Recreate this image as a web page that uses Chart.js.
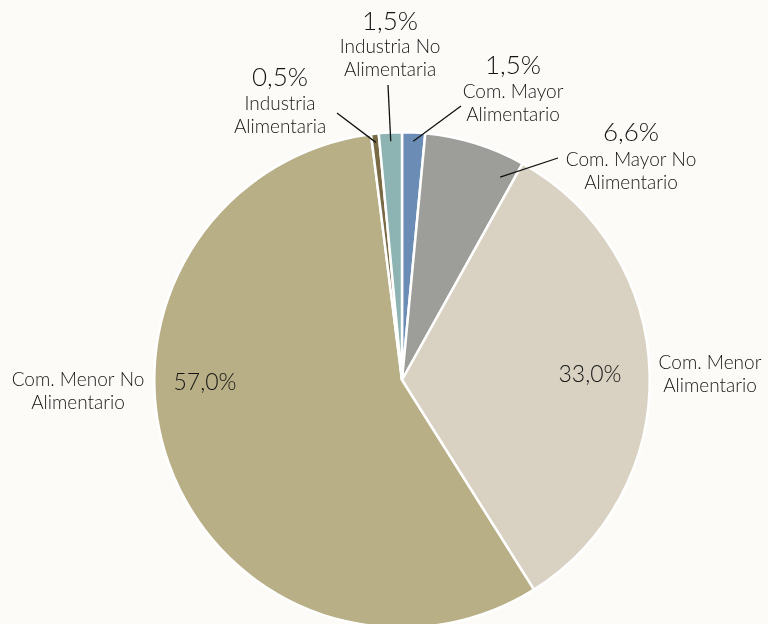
<!DOCTYPE html>
<html>
<head>
<meta charset="utf-8">
<script src="https://cdn.jsdelivr.net/npm/chart.js@4"></script>
<style>
  html, body { margin: 0; padding: 0; background: #FCFBF8; overflow: hidden; width: 768px; height: 624px; }
  canvas { display: block; }
</style>
</head>
<body>
<canvas id="pie" width="768" height="760"></canvas>
<script>
// Shares by sector, clockwise from 12 o'clock
const categories = [
  ['Com. Mayor', 'Alimentario'],
  ['Com. Mayor No', 'Alimentario'],
  ['Com. Menor', 'Alimentario'],
  ['Com. Menor No', 'Alimentario'],
  ['Industria', 'Alimentaria'],
  ['Industria No', 'Alimentaria']
];
const shares = [1.5, 6.6, 33.0, 57.0, 0.5, 1.5];
const percentLabels = ['1,5%', '6,6%', '33,0%', '57,0%', '0,5%', '1,5%'];

const sliceColors = ['#6B8DB5', '#9D9D9A', '#D9D2C3', '#B8AF87', '#7A6A45', '#8DB3B3'];

// Label placement, offsets from the pie centre (px).
// pct: value label, name: first line of the category name, lead: leader line start,
// tip: [fraction along the slice, fraction of radius] for the leader line end.
const labelLayout = [
  { pct: [111, -314], name: [111, -288], lead: [59, -274], tip: [0.5, 0.965], pctSize: 26 },
  { pct: [229, -247], name: [229, -220], lead: [156, -222], tip: [0.86, 0.91], pctSize: 26 },
  { pct: [188, -5],  name: [308, -17], pctSize: 23 },
  { pct: [-197, 3],  name: [-324, 0], pctSize: 23 },
  { pct: [-122, -302], name: [-122, -276], lead: [-65, -267], tip: [0.5, 0.965], pctSize: 26 },
  { pct: [-12, -358], name: [-12, -333], lead: [-14, -295], tip: [0.5, 0.965], pctSize: 26 }
];

const FONT = 'Lato, "Open Sans", sans-serif';
const TEXT = '#151515';

const sectorLabels = {
  id: 'sectorLabels',
  afterDatasetsDraw(chart) {
    const ctx = chart.ctx;
    const arcs = chart.getDatasetMeta(0).data;
    ctx.save();
    ctx.fillStyle = TEXT;
    ctx.strokeStyle = '#111';
    ctx.textAlign = 'center';
    ctx.textBaseline = 'middle';
    arcs.forEach((arc, i) => {
      const L = labelLayout[i];
      const cx = arc.x, cy = arc.y;
      if (L.lead) {
        const a = arc.startAngle + (arc.endAngle - arc.startAngle) * L.tip[0];
        const r = arc.outerRadius * L.tip[1];
        ctx.lineWidth = 1.3;
        ctx.beginPath();
        ctx.moveTo(cx + L.lead[0], cy + L.lead[1]);
        ctx.lineTo(cx + Math.cos(a) * r, cy + Math.sin(a) * r);
        ctx.stroke();
      }
      ctx.font = '300 ' + L.pctSize + 'px ' + FONT;
      ctx.fillText(percentLabels[i], cx + L.pct[0], cy + L.pct[1]);
      ctx.font = '300 19px ' + FONT;
      categories[i].forEach((line, k) => {
        ctx.fillText(line, cx + L.name[0], cy + L.name[1] + k * 22.5);
      });
    });
    ctx.restore();
  }
};

new Chart(document.getElementById('pie'), {
  type: 'pie',
  data: {
    labels: categories.map(c => c.join(' ')),
    datasets: [{
      data: shares,
      backgroundColor: sliceColors,
      borderColor: '#FFFFFF',
      borderWidth: 2.5
    }]
  },
  options: {
    responsive: false,
    animation: false,
    devicePixelRatio: 1,
    layout: { padding: { left: 153, right: 117, top: 131, bottom: 131 } },
    plugins: { legend: { display: false }, tooltip: { enabled: false } }
  },
  plugins: [sectorLabels]
});
</script>
</body>
</html>
